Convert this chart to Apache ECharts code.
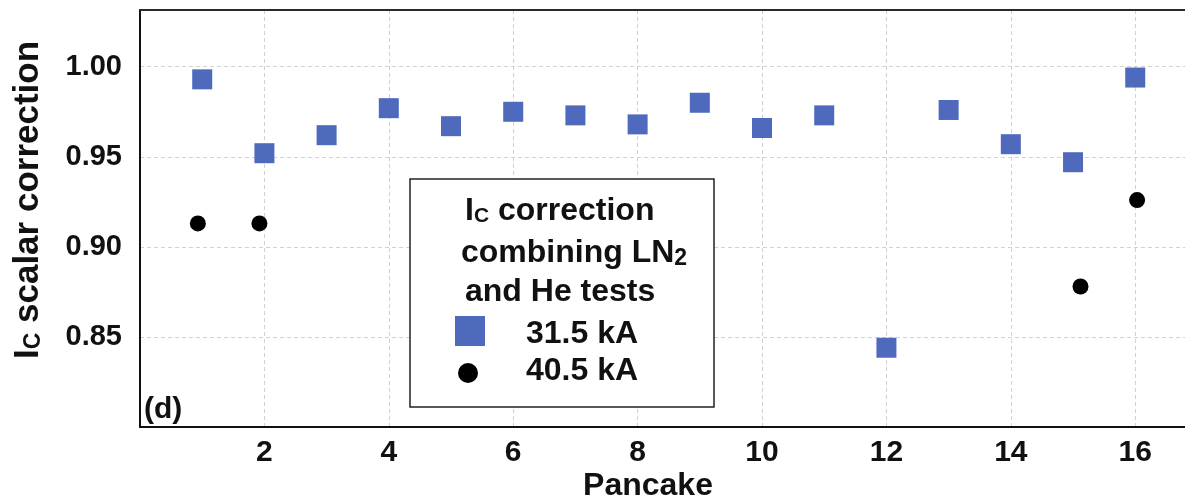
<!DOCTYPE html>
<html>
<head>
<meta charset="utf-8">
<script src="https://cdn.jsdelivr.net/npm/echarts@6/dist/echarts.min.js"></script>
<style>
  html, body { margin: 0; padding: 0; background: #fff; }
  #chart { width: 1185px; height: 501px; }
</style>
</head>
<body>
<div id="chart"></div>
<script>
// Pancake index for each measurement
const pancakes315 = [1, 2, 3, 4, 5, 6, 7, 8, 9, 10, 11, 12, 13, 14, 15, 16];
// Ic scalar correction at 31.5 kA
const corr315 = [0.993, 0.952, 0.962, 0.977, 0.967, 0.975, 0.973, 0.968, 0.980, 0.966, 0.973, 0.844, 0.976, 0.957, 0.947, 0.994];
// 40.5 kA points (slightly offset horizontally)
const pancakes405 = [0.93, 1.92, 15.12, 16.03];
const corr405 = [0.913, 0.913, 0.878, 0.926];

const xTicks = [2, 4, 6, 8, 10, 12, 14, 16];
const yTicks = [0.85, 0.90, 0.95, 1.00];

const FONT = '"Liberation Sans", Arial, Helvetica, sans-serif';
const BLUE = '#4f6abd';
const X_MIN = 0, X_MAX = 16.8;

const chart = echarts.init(document.getElementById('chart'), null, { renderer: 'canvas' });

const pairs = (xs, ys) => xs.map((x, i) => [x, ys[i]]);
const gridLine = { color: '#d2d2d2', type: [4, 3], width: 1 };

chart.setOption({
  animation: false,
  backgroundColor: '#fff',
  grid: { left: 140, top: 10, right: 0, bottom: 74, outerBoundsMode: 'none', containLabel: false },
  xAxis: [
    {
      type: 'value', min: X_MIN, max: X_MAX, interval: 2,
      axisLine: { show: true, onZero: false, lineStyle: { color: '#111', width: 2 } },
      axisTick: { show: false },
      axisLabel: {
        margin: 11, color: '#111', fontFamily: FONT, fontWeight: 'bold', fontSize: 30,
        formatter: v => xTicks.includes(v) ? String(v) : ''
      },
      splitLine: { show: true, showMaxLine: false, lineStyle: gridLine }
    },
    {
      // top frame line
      type: 'value', position: 'top', min: X_MIN, max: X_MAX,
      axisLine: { show: true, onZero: false, lineStyle: { color: '#2a2a2a', width: 2 } },
      axisTick: { show: false }, axisLabel: { show: false }, splitLine: { show: false }
    }
  ],
  yAxis: {
    type: 'value', min: 0.80, max: 1.0315, interval: 0.05,
    axisLine: { show: true, onZero: false, lineStyle: { color: '#111', width: 2 } },
    axisTick: { show: false },
    axisLabel: {
      margin: 18, color: '#111', fontFamily: FONT, fontWeight: 'bold', fontSize: 29,
      formatter: v => yTicks.some(t => Math.abs(t - v) < 1e-6) ? v.toFixed(2) : ''
    },
    splitLine: { show: true, showMaxLine: false, lineStyle: gridLine }
  },
  series: [
    {
      name: '31.5 kA', type: 'scatter', symbol: 'rect', symbolSize: 20,
      itemStyle: { color: BLUE, opacity: 1 },
      data: pairs(pancakes315, corr315)
    },
    {
      name: '40.5 kA', type: 'scatter', symbol: 'circle', symbolSize: 16,
      itemStyle: { color: '#000', opacity: 1 },
      data: pairs(pancakes405, corr405)
    }
  ],
  graphic: [
    // y-axis title
    {
      type: 'text', x: 28, y: 200, rotation: Math.PI / 2,
      style: {
        text: '{m|I}{s|C}{m| scalar correction}',
        align: 'center', verticalAlign: 'middle',
        rich: {
          m: { fontFamily: FONT, fontWeight: 'bold', fontSize: 35, fill: '#111' },
          s: { fontFamily: FONT, fontWeight: 'bold', fontSize: 23, fill: '#111', verticalAlign: 'bottom', padding: [12, 0, 0, 0] }
        }
      }
    },
    // x-axis title
    {
      type: 'text', x: 648, y: 486,
      style: { text: 'Pancake', align: 'center', verticalAlign: 'middle', fontFamily: FONT, fontWeight: 'bold', fontSize: 32, fill: '#111' }
    },
    // panel tag
    {
      type: 'text', x: 144, y: 410,
      style: { text: '(d)', align: 'left', verticalAlign: 'middle', fontFamily: FONT, fontWeight: 'bold', fontSize: 30, fill: '#111' }
    },
    // legend box
    {
      type: 'rect', shape: { x: 410, y: 179, width: 304, height: 228 },
      style: { fill: '#fff', stroke: '#222', lineWidth: 1.5 }, z: 50
    },
    {
      type: 'text', x: 465, y: 211, z: 51,
      style: {
        text: '{m|I}{s|C}{m| correction}', align: 'left', verticalAlign: 'middle',
        rich: {
          m: { fontFamily: FONT, fontWeight: 'bold', fontSize: 32, fill: '#111' },
          s: { fontFamily: FONT, fontWeight: 'bold', fontSize: 21, fill: '#111', verticalAlign: 'bottom', padding: [11, 0, 0, 0] }
        }
      }
    },
    {
      type: 'text', x: 461, y: 253, z: 51,
      style: {
        text: '{m|combining LN}{s|2}', align: 'left', verticalAlign: 'middle',
        rich: {
          m: { fontFamily: FONT, fontWeight: 'bold', fontSize: 32, fill: '#111' },
          s: { fontFamily: FONT, fontWeight: 'bold', fontSize: 23, fill: '#111', verticalAlign: 'bottom', padding: [11, 0, 0, 0] }
        }
      }
    },
    {
      type: 'text', x: 465, y: 292, z: 51,
      style: { text: 'and He tests', align: 'left', verticalAlign: 'middle', fontFamily: FONT, fontWeight: 'bold', fontSize: 32, fill: '#111' }
    },
    {
      type: 'rect', shape: { x: 455, y: 316, width: 30, height: 30 }, z: 51,
      style: { fill: BLUE }
    },
    {
      type: 'text', x: 526, y: 334, z: 51,
      style: { text: '31.5 kA', align: 'left', verticalAlign: 'middle', fontFamily: FONT, fontWeight: 'bold', fontSize: 32, fill: '#111' }
    },
    {
      type: 'circle', shape: { cx: 468, cy: 373, r: 10 }, z: 51,
      style: { fill: '#000' }
    },
    {
      type: 'text', x: 526, y: 371, z: 51,
      style: { text: '40.5 kA', align: 'left', verticalAlign: 'middle', fontFamily: FONT, fontWeight: 'bold', fontSize: 32, fill: '#111' }
    }
  ]
});
</script>
</body>
</html>
